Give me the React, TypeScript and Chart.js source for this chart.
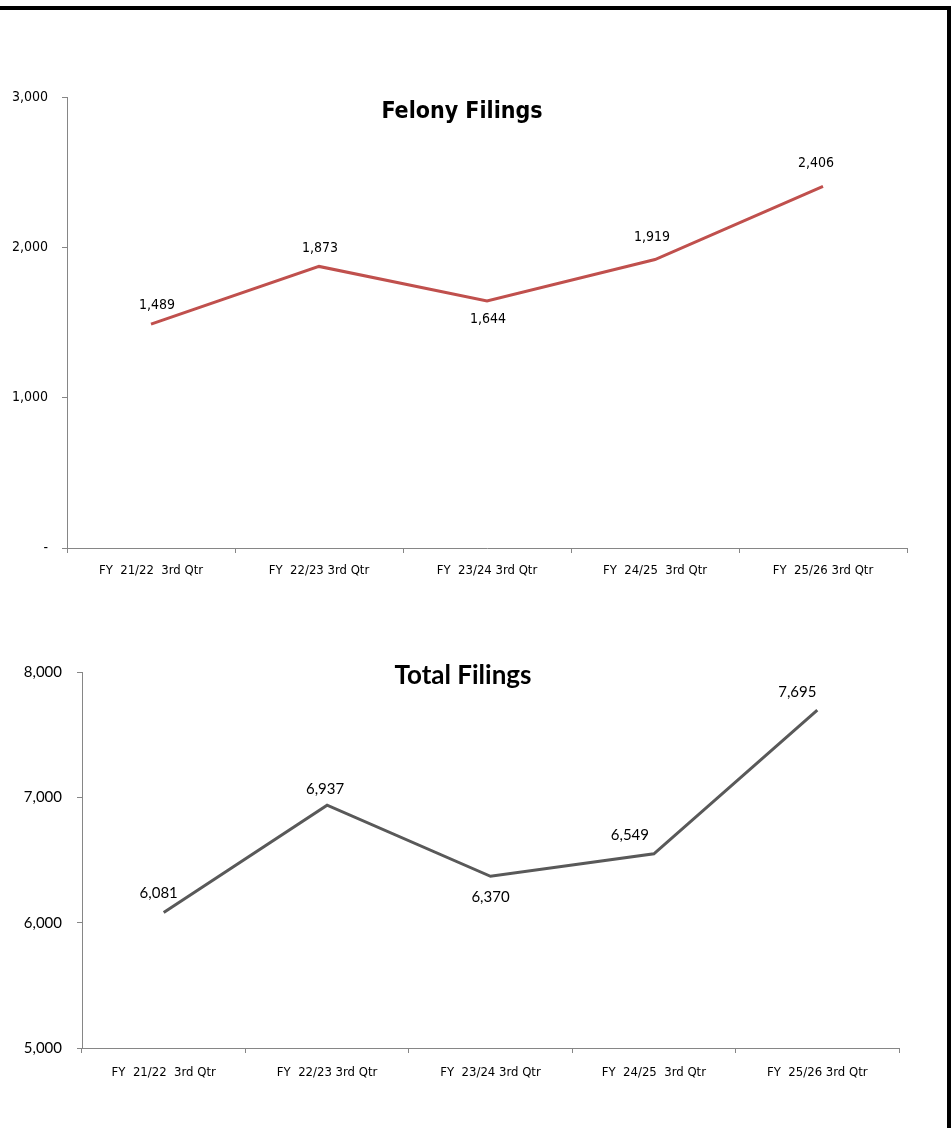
import React, { useEffect, useRef } from "react";
import { Chart, registerables } from "chart.js";

Chart.register(...registerables);

// ---------- data ----------
const categories = [
  "FY  21/22  3rd Qtr",
  "FY  22/23 3rd Qtr",
  "FY  23/24 3rd Qtr",
  "FY  24/25  3rd Qtr",
  "FY  25/26 3rd Qtr",
];
const felonyValues = [1489, 1873, 1644, 1919, 2406];
const totalValues = [6081, 6937, 6370, 6549, 7695];
const felonyTicks = [0, 1000, 2000, 3000];
const totalTicks = [5000, 6000, 7000, 8000];
const felonyTitle = "Felony Filings";
const totalTitle = "Total Filings";

// ---------- styles ----------
const NARROW = "'Liberation Sans Narrow', 'DejaVu Sans Condensed', 'Open Sans', sans-serif";
const REGULAR = "Lato, 'Open Sans', sans-serif";
const AXIS_GRAY = "#868686";
const felonyLabelOffsets = [
  [6, -19],
  [1, -18],
  [1, 19],
  [-3, -22],
  [-7, -23],
];
const totalLabelOffsets = [
  [-5, -19],
  [-2, -16],
  [0, 21],
  [-24, -19],
  [-20, -18],
];

function makeOverlay(
  title: string,
  titleX: number,
  titleY: number,
  titleFont: string,
  labelFont: string,
  offsets: number[][]
) {
  return {
    id: "overlay",
    afterDatasetsDraw(chart: any) {
      const ctx = chart.ctx as CanvasRenderingContext2D;
      const meta = chart.getDatasetMeta(0);
      const data = chart.data.datasets[0].data as number[];
      ctx.save();
      ctx.fillStyle = "#000";
      ctx.textAlign = "center";
      ctx.textBaseline = "middle";
      ctx.font = labelFont;
      meta.data.forEach((pt: any, i: number) => {
        const [dx, dy] = offsets[i];
        ctx.fillText(data[i].toLocaleString("en-US"), pt.x + dx, pt.y + dy);
      });
      ctx.font = titleFont;
      ctx.fillText(title, titleX, titleY);
      ctx.restore();
    },
  };
}

function buildConfig(opts: {
  values: number[];
  ticks: number[];
  color: string;
  padding: { left: number; top: number; right: number; bottom: number };
  yWidth: number;
  xHeight: number;
  yFont: { family: string; size: number };
  xFont: { family: string; size: number };
  yPad: number;
  xPad: number;
  zeroDash: boolean;
  plugin: any;
}) {
  const tmin = opts.ticks[0];
  const tmax = opts.ticks[opts.ticks.length - 1];
  const step = opts.ticks[1] - opts.ticks[0];
  return {
    type: "line" as const,
    data: {
      labels: categories,
      datasets: [
        {
          data: opts.values,
          borderColor: opts.color,
          backgroundColor: opts.color,
          borderWidth: 3,
          pointRadius: 0,
          pointHoverRadius: 0,
          tension: 0,
          fill: false,
        },
      ],
    },
    options: {
      animation: false as const,
      responsive: false,
      devicePixelRatio: 1,
      layout: { padding: opts.padding },
      events: [],
      plugins: {
        legend: { display: false },
        title: { display: false },
        tooltip: { enabled: false },
      },
      scales: {
        x: {
          type: "category" as const,
          offset: true,
          grid: {
            offset: true,
            drawOnChartArea: false,
            drawTicks: true,
            tickLength: 5,
            color: AXIS_GRAY,
            lineWidth: 1,
          },
          border: { display: true, color: AXIS_GRAY, width: 1 },
          ticks: {
            color: "#000",
            font: opts.xFont,
            padding: opts.xPad,
            maxRotation: 0,
            minRotation: 0,
            autoSkip: false,
          },
          afterFit: (s: any) => {
            s.height = opts.xHeight;
          },
        },
        y: {
          min: tmin,
          max: tmax,
          grid: {
            drawOnChartArea: false,
            drawTicks: true,
            tickLength: 5,
            color: AXIS_GRAY,
            lineWidth: 1,
          },
          border: { display: true, color: AXIS_GRAY, width: 1 },
          ticks: {
            stepSize: step,
            color: "#000",
            font: opts.yFont,
            padding: opts.yPad,
            callback: (v: any) =>
              opts.zeroDash && Number(v) === 0 ? "-" : Number(v).toLocaleString("en-US"),
          },
          afterFit: (s: any) => {
            s.width = opts.yWidth;
          },
        },
      },
    },
    plugins: [opts.plugin],
  };
}

export default function App() {
  const ref1 = useRef<HTMLCanvasElement>(null);
  const ref2 = useRef<HTMLCanvasElement>(null);

  useEffect(() => {
    document.body.style.margin = "0";
    const c1 = new Chart(
      ref1.current as HTMLCanvasElement,
      buildConfig({
        values: felonyValues,
        ticks: felonyTicks,
        color: "#C0504D",
        padding: { left: 0, top: 57, right: 44, bottom: 0 },
        yWidth: 67,
        xHeight: 72,
        yFont: { family: NARROW, size: 14 },
        xFont: { family: NARROW, size: 13 },
        yPad: 14,
        xPad: 10,
        zeroDash: true,
        plugin: makeOverlay(
          felonyTitle,
          462,
          72,
          `bold 23px ${NARROW}`,
          `14px ${NARROW}`,
          felonyLabelOffsets
        ),
      }) as any
    );
    const c2 = new Chart(
      ref2.current as HTMLCanvasElement,
      buildConfig({
        values: totalValues,
        ticks: totalTicks,
        color: "#595959",
        padding: { left: 0, top: 52, right: 52, bottom: 0 },
        yWidth: 82,
        xHeight: 80,
        yFont: { family: REGULAR, size: 15 },
        xFont: { family: NARROW, size: 13 },
        yPad: 15,
        xPad: 12,
        zeroDash: false,
        plugin: makeOverlay(
          totalTitle,
          463,
          56,
          `bold 26px ${REGULAR}`,
          `15px ${REGULAR}`,
          totalLabelOffsets
        ),
      }) as any
    );
    return () => {
      c1.destroy();
      c2.destroy();
    };
  }, []);

  return (
    <div
      style={{
        position: "absolute",
        left: 0,
        top: 0,
        width: 951,
        height: 1128,
        background: "#fff",
        overflow: "hidden",
      }}
    >
      <div style={{ position: "absolute", left: 0, top: 6, width: 951, height: 4, background: "#000" }} />
      <div style={{ position: "absolute", left: 947, top: 6, width: 4, height: 1122, background: "#000" }} />
      <canvas
        ref={ref1}
        width={951}
        height={580}
        style={{ position: "absolute", left: 0, top: 40, width: 951, height: 580, display: "block" }}
      />
      <canvas
        ref={ref2}
        width={951}
        height={508}
        style={{ position: "absolute", left: 0, top: 620, width: 951, height: 508, display: "block" }}
      />
    </div>
  );
}
